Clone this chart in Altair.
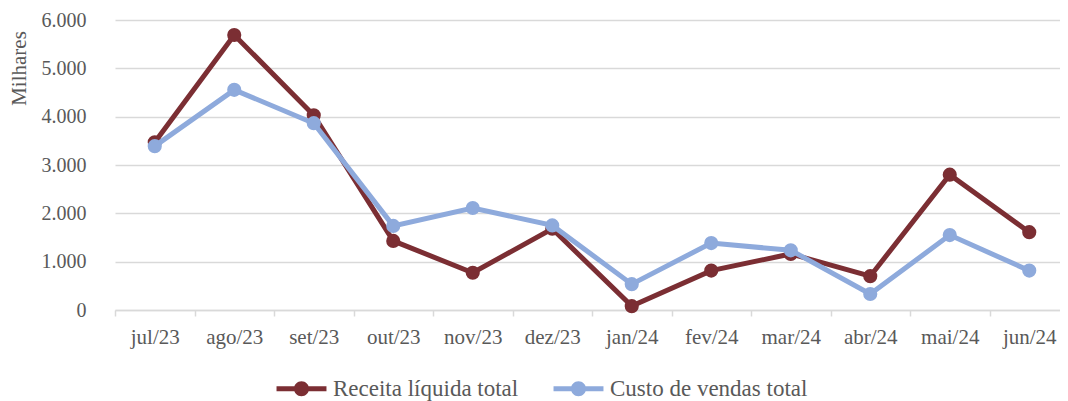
import altair as alt
import pandas as pd

months = ["jul/23", "ago/23", "set/23", "out/23", "nov/23", "dez/23",
          "jan/24", "fev/24", "mar/24", "abr/24", "mai/24", "jun/24"]
receita = [3470, 5690, 4030, 1430, 770, 1680, 80, 815, 1160, 700, 2800, 1610]
custo = [3390, 4555, 3865, 1740, 2110, 1750, 535, 1385, 1235, 330, 1550, 815]
series = ["Receita líquida total", "Custo de vendas total"]
colors = ["#7B2E33", "#8EAADC"]

rows = []
for s, vals in zip(series, [receita, custo]):
    for m, v in zip(months, vals):
        rows.append({"mes": m, "valor": v, "serie": s})
df = pd.DataFrame(rows)

FONT = "Liberation Serif"
GRAY = "#595959"
LINE_GRAY = "#D9D9D9"

sym_path = ("M-3.33,-0.33H3.33V0.33H-3.33Z "
            "M-1,0A1,1 0 1,1 1,0A1,1 0 1,1 -1,0Z")

x = alt.X("mes:N", sort=months, title=None,
          scale=alt.Scale(domain=months, range=[0, 954], paddingInner=0, paddingOuter=0),
          axis=alt.Axis(labelAngle=0, labelFont=FONT, labelFontSize=21, labelColor=GRAY,
                        domainColor=LINE_GRAY, domainWidth=1.5, tickColor=LINE_GRAY,
                        tickWidth=1.5, tickSize=6, tickBand="extent", labelPadding=10,
                        grid=False, labelOverlap=False))
y = alt.Y("valor:Q", title="Milhares",
          scale=alt.Scale(domain=[0, 6000], nice=False),
          axis=alt.Axis(values=[0, 1000, 2000, 3000, 4000, 5000, 6000],
                        labelExpr="replace(format(datum.value, ','), ',', '.')",
                        labelFont=FONT, labelFontSize=20, labelColor=GRAY,
                        labelPadding=29, domain=False, ticks=False,
                        grid=True, gridColor=LINE_GRAY, gridWidth=1.3,
                        titleFont=FONT, titleFontSize=21, titleFontWeight="normal",
                        titleColor=GRAY, titleAngle=270, titleX=-96, titleY=48,
                        titleAlign="center", titleBaseline="middle"))

legend = alt.Legend(title=None, orient="none", direction="horizontal",
                    legendX=175, legendY=357, symbolType=sym_path, symbolSize=225,
                    symbolStrokeWidth=0, labelFont=FONT, labelFontSize=23,
                    labelColor=GRAY, labelOffset=20, columnPadding=34, labelLimit=400)

color_scale = alt.Scale(domain=series, range=colors)

layers = []
for i, s in enumerate(series):
    base = alt.Chart(df).transform_filter(alt.datum.serie == s)
    line = base.mark_line(strokeWidth=5, color=colors[i]).encode(x=x, y=y)
    pts = base.mark_point(filled=True, size=200, opacity=1).encode(
        x=x, y=y, color=alt.Color("serie:N", scale=color_scale, legend=legend))
    layers += [line, pts]

chart = alt.layer(*layers).properties(
    width=945, height=290,
    autosize=alt.AutoSizeParams(type="none"),
    padding={"left": 107, "top": 12, "right": 0, "bottom": 91},
).configure(background="white", view=alt.ViewConfig(stroke=None))

chart.save("out.html", embed_options={"renderer": "svg", "actions": False})
